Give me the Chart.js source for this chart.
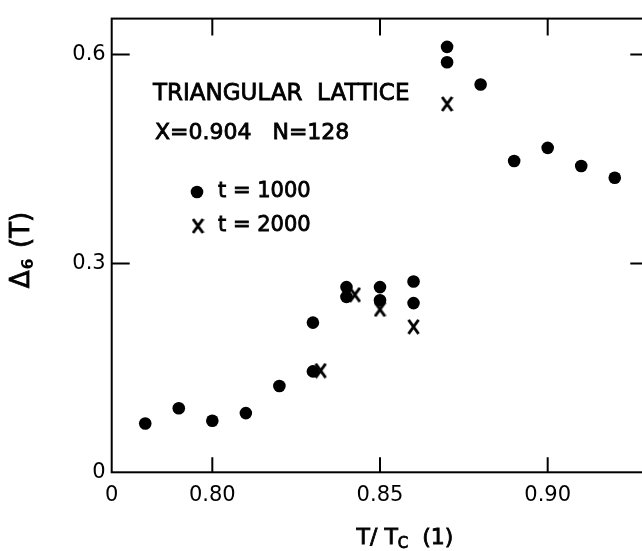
<!DOCTYPE html>
<html>
<head>
<meta charset="utf-8">
<script src="https://cdn.jsdelivr.net/npm/chart.js@4.4.0/dist/chart.umd.min.js"></script>
<style>
  html, body { margin: 0; padding: 0; background: #fff; overflow: hidden; }
  #wrap { position: absolute; left: 0; top: 0; width: 660px; height: 551px; }
</style>
</head>
<body>
<div id="wrap"><canvas id="chart" width="660" height="551"></canvas></div>
<script>
// t = 1000 (filled circles)
const xT1000 = [0.78, 0.79, 0.80, 0.81, 0.82, 0.83, 0.83, 0.84, 0.84, 0.85, 0.85, 0.86, 0.86, 0.87, 0.87, 0.88, 0.89, 0.90, 0.91, 0.92];
const yT1000 = [0.070, 0.092, 0.074, 0.085, 0.124, 0.215, 0.145, 0.266, 0.252, 0.266, 0.247, 0.274, 0.243, 0.611, 0.589, 0.557, 0.447, 0.466, 0.440, 0.423];
// t = 2000 (crosses)
const xT2000 = [0.8323, 0.8425, 0.85, 0.86, 0.87];
const yT2000 = [0.146, 0.255, 0.234, 0.209, 0.529];

const xTicks = [0.77, 0.80, 0.85, 0.90];
const xTickLabels = ['0', '0.80', '0.85', '0.90'];
const xTickMarks = [0.80, 0.85, 0.90];
const yTicks = [0, 0.3, 0.6];
const yTickLabels = ['0', '0.3', '0.6'];
const yTickMarks = [0.3, 0.6];

const FONT = '"DejaVu Sans", sans-serif';

function makeCross(w, h, lw) {
    const c = document.createElement('canvas');
    c.width = w; c.height = h;
    const g = c.getContext('2d');
    g.strokeStyle = '#000';
    g.lineWidth = lw;
    g.beginPath();
    g.moveTo(1.5, 1); g.lineTo(w - 1.5, h - 1);
    g.moveTo(w - 1.5, 1); g.lineTo(1.5, h - 1);
    g.stroke();
    return c;
}
const cross = makeCross(13, 16, 3);

const zip = (xs, ys) => xs.map((x, i) => ({ x: x, y: ys[i] }));

// filled text, thickened a little so it looks like the lettering of the original
function text(ctx, s, x, y) {
    ctx.fillText(s, x, y);
    ctx.strokeText(s, x, y);
}

const framePlugin = {
    id: 'frame',
    afterDraw(chart) {
        const { ctx, chartArea: a, scales } = chart;
        ctx.save();
        ctx.strokeStyle = '#000';
        ctx.lineWidth = 2;
        ctx.strokeRect(a.left, a.top, a.right - a.left, a.bottom - a.top);

        // inward tick marks on all four sides
        xTickMarks.forEach((v) => {
            const px = scales.x.getPixelForValue(v);
            ctx.beginPath();
            ctx.moveTo(px, a.bottom); ctx.lineTo(px, a.bottom - 15);
            ctx.moveTo(px, a.top); ctx.lineTo(px, a.top + 17);
            ctx.stroke();
        });
        yTickMarks.forEach((v) => {
            const py = scales.y.getPixelForValue(v);
            ctx.beginPath();
            ctx.moveTo(a.left, py); ctx.lineTo(a.left + 18, py);
            ctx.moveTo(a.right, py); ctx.lineTo(a.right - 18, py);
            ctx.stroke();
        });

        // annotation text
        ctx.fillStyle = '#000';
        ctx.lineWidth = 0.8;
        ctx.textBaseline = 'middle';
        ctx.textAlign = 'left';
        ctx.font = '23px ' + FONT;
        text(ctx, 'TRIANGULAR  LATTICE', 153, 94);
        ctx.font = '22px ' + FONT;
        text(ctx, 'X=0.904   N=128', 155, 133);

        // legend
        ctx.beginPath();
        ctx.arc(197, 192, 6.3, 0, Math.PI * 2);
        ctx.fill();
        ctx.drawImage(cross, 198 - cross.width / 2, 226 - cross.height / 2);
        ctx.font = '21px ' + FONT;
        text(ctx, 't = 1000', 218, 192);
        text(ctx, 't = 2000', 218, 226);

        // x axis title  T/ Tc (1)
        const big = '22px ' + FONT, small = '15px ' + FONT;
        ctx.font = big;
        const w1 = ctx.measureText('T/ T').width;
        const w3 = ctx.measureText('  (1)').width;
        ctx.font = small;
        const w2 = ctx.measureText('C').width;
        const sx = 405 - (w1 + w2 + w3) / 2;
        ctx.font = big;
        text(ctx, 'T/ T', sx, 538);
        ctx.font = small;
        text(ctx, 'C', sx + w1, 544);
        ctx.font = big;
        text(ctx, '  (1)', sx + w1 + w2, 538);

        // y axis title  Δ6 (T), rotated
        ctx.translate(22, 250);
        ctx.rotate(-Math.PI / 2);
        ctx.font = '26px ' + FONT;
        const d1 = ctx.measureText('Δ').width;
        const d3 = ctx.measureText(' (T)').width;
        ctx.font = 'bold 16px ' + FONT;
        const d2 = ctx.measureText('6').width + 3;
        const sy = -(d1 + d2 + d3) / 2;
        ctx.font = '26px ' + FONT;
        text(ctx, 'Δ', sy, 0);
        ctx.font = 'bold 16px ' + FONT;
        ctx.fillText('6', sy + d1 + 1, 7);
        ctx.font = '26px ' + FONT;
        text(ctx, ' (T)', sy + d1 + d2, 0);
        ctx.restore();
    }
};

new Chart(document.getElementById('chart'), {
    type: 'scatter',
    data: {
        datasets: [
            {
                label: 't = 1000',
                data: zip(xT1000, yT1000),
                pointStyle: 'circle',
                pointRadius: 6.3,
                pointBorderWidth: 0,
                backgroundColor: '#000',
                borderColor: '#000',
            },
            {
                label: 't = 2000',
                data: zip(xT2000, yT2000),
                pointStyle: cross,
                pointRadius: 7,
                backgroundColor: '#000',
                borderColor: '#000',
            },
        ],
    },
    options: {
        responsive: false,
        animation: false,
        layout: { padding: { top: 15.5, right: 11.7, left: 0, bottom: 0 } },
        plugins: {
            legend: { display: false },
            tooltip: { enabled: false },
        },
        scales: {
            x: {
                type: 'linear',
                min: 0.77,
                max: 0.93,
                grid: { display: false, drawTicks: false },
                border: { display: false },
                afterBuildTicks: (scale) => { scale.ticks = xTicks.map((v) => ({ value: v })); },
                afterFit: (scale) => { scale.height = 78.7; },
                ticks: {
                    color: '#000',
                    padding: 11,
                    maxRotation: 0,
                    font: { family: FONT, size: 21 },
                    callback: (v) => xTickLabels[xTicks.indexOf(v)],
                },
            },
            y: {
                min: 0,
                max: 0.6516,
                grid: { display: false, drawTicks: false },
                border: { display: false },
                afterBuildTicks: (scale) => { scale.ticks = yTicks.map((v) => ({ value: v })); },
                afterFit: (scale) => { scale.width = 111.7; },
                ticks: {
                    color: '#000',
                    padding: 6,
                    font: { family: FONT, size: 21 },
                    callback: (v) => yTickLabels[yTicks.indexOf(v)],
                },
            },
        },
    },
    plugins: [framePlugin],
});
</script>
</body>
</html>
